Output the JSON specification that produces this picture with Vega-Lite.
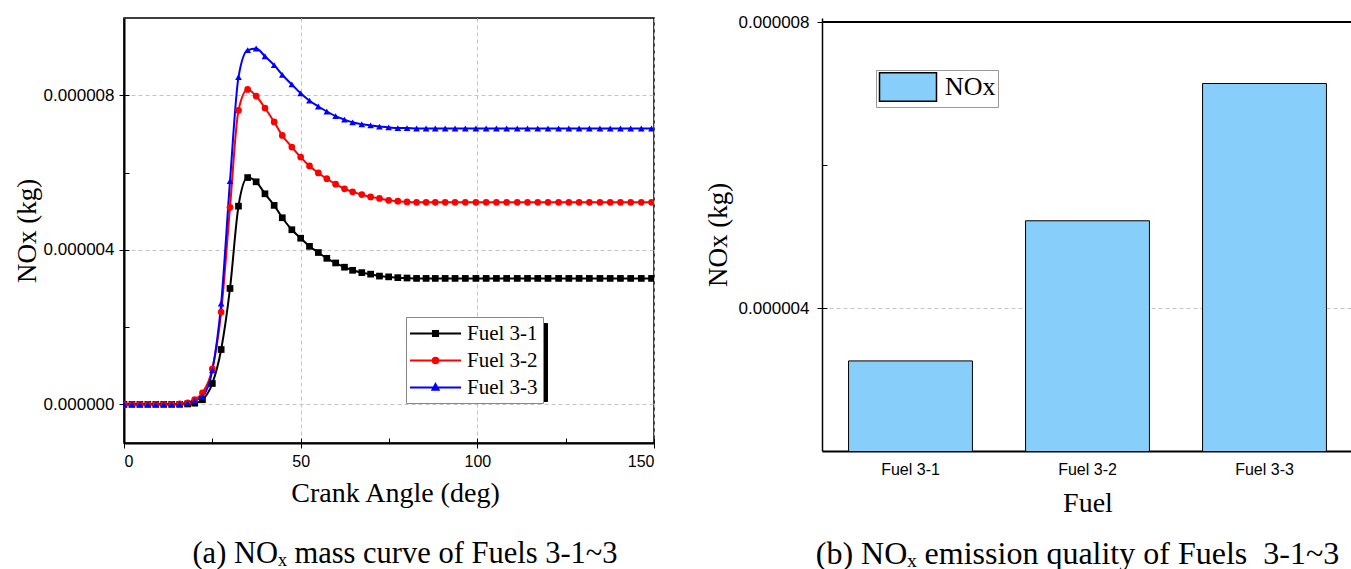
{
  "$schema": "https://vega.github.io/schema/vega-lite/v6.json",
  "padding": {"left": 12, "top": 13, "right": 0, "bottom": 0},
  "background": "white",
  "config": {
    "view": {"stroke": null},
    "axis": {
      "labelFont": "Liberation Sans", "labelFontSize": 16, "labelColor": "#000",
      "titleFont": "Liberation Serif", "titleFontSize": 27, "titleFontWeight": "normal", "titleColor": "#000",
      "domainColor": "#000", "tickColor": "#000", "gridColor": "#c4c4c4", "gridDash": [4, 3], "gridWidth": 1
    }
  },
  "datasets": {
    "curves": [
      {"angle":0,"fuel":"Fuel 3-1","nox":0},{"angle":2.25,"fuel":"Fuel 3-1","nox":0},{"angle":4.5,"fuel":"Fuel 3-1","nox":0},{"angle":6.75,"fuel":"Fuel 3-1","nox":0},{"angle":9,"fuel":"Fuel 3-1","nox":0},{"angle":11.25,"fuel":"Fuel 3-1","nox":0},{"angle":13.5,"fuel":"Fuel 3-1","nox":0},{"angle":15.75,"fuel":"Fuel 3-1","nox":0},{"angle":18,"fuel":"Fuel 3-1","nox":1e-8},{"angle":20,"fuel":"Fuel 3-1","nox":3e-8},
      {"angle":22.2,"fuel":"Fuel 3-1","nox":1.2e-7},{"angle":25,"fuel":"Fuel 3-1","nox":5.4e-7},{"angle":27.5,"fuel":"Fuel 3-1","nox":1.42e-6},{"angle":30,"fuel":"Fuel 3-1","nox":3.0e-6},{"angle":32.4,"fuel":"Fuel 3-1","nox":5.13e-6},{"angle":35,"fuel":"Fuel 3-1","nox":5.87e-6},{"angle":37.4,"fuel":"Fuel 3-1","nox":5.76e-6},{"angle":39.9,"fuel":"Fuel 3-1","nox":5.45e-6},{"angle":42.5,"fuel":"Fuel 3-1","nox":5.15e-6},{"angle":44.8,"fuel":"Fuel 3-1","nox":4.83e-6},
      {"angle":47.5,"fuel":"Fuel 3-1","nox":4.52e-6},{"angle":50,"fuel":"Fuel 3-1","nox":4.30e-6},{"angle":52.5,"fuel":"Fuel 3-1","nox":4.09e-6},{"angle":55,"fuel":"Fuel 3-1","nox":3.93e-6},{"angle":57.4,"fuel":"Fuel 3-1","nox":3.78e-6},{"angle":59.9,"fuel":"Fuel 3-1","nox":3.66e-6},{"angle":62.4,"fuel":"Fuel 3-1","nox":3.55e-6},{"angle":64.7,"fuel":"Fuel 3-1","nox":3.47e-6},{"angle":67.3,"fuel":"Fuel 3-1","nox":3.41e-6},{"angle":69.8,"fuel":"Fuel 3-1","nox":3.37e-6},
      {"angle":72.3,"fuel":"Fuel 3-1","nox":3.32e-6},{"angle":74.9,"fuel":"Fuel 3-1","nox":3.30e-6},{"angle":77.5,"fuel":"Fuel 3-1","nox":3.28e-6},{"angle":80.1,"fuel":"Fuel 3-1","nox":3.27e-6},{"angle":82.8,"fuel":"Fuel 3-1","nox":3.26e-6},{"angle":85.5,"fuel":"Fuel 3-1","nox":3.26e-6},{"angle":88.1,"fuel":"Fuel 3-1","nox":3.26e-6},{"angle":90.9,"fuel":"Fuel 3-1","nox":3.26e-6},{"angle":93.7,"fuel":"Fuel 3-1","nox":3.26e-6},{"angle":96.6,"fuel":"Fuel 3-1","nox":3.26e-6},
      {"angle":99.6,"fuel":"Fuel 3-1","nox":3.26e-6},{"angle":102.5,"fuel":"Fuel 3-1","nox":3.26e-6},{"angle":105.4,"fuel":"Fuel 3-1","nox":3.26e-6},{"angle":108.3,"fuel":"Fuel 3-1","nox":3.26e-6},{"angle":111.3,"fuel":"Fuel 3-1","nox":3.26e-6},{"angle":114.2,"fuel":"Fuel 3-1","nox":3.26e-6},{"angle":117.1,"fuel":"Fuel 3-1","nox":3.26e-6},{"angle":120,"fuel":"Fuel 3-1","nox":3.26e-6},{"angle":123,"fuel":"Fuel 3-1","nox":3.26e-6},{"angle":125.9,"fuel":"Fuel 3-1","nox":3.26e-6},
      {"angle":128.8,"fuel":"Fuel 3-1","nox":3.26e-6},{"angle":131.7,"fuel":"Fuel 3-1","nox":3.26e-6},{"angle":134.7,"fuel":"Fuel 3-1","nox":3.26e-6},{"angle":137.6,"fuel":"Fuel 3-1","nox":3.26e-6},{"angle":140.5,"fuel":"Fuel 3-1","nox":3.26e-6},{"angle":143.4,"fuel":"Fuel 3-1","nox":3.26e-6},{"angle":146.4,"fuel":"Fuel 3-1","nox":3.26e-6},{"angle":149.3,"fuel":"Fuel 3-1","nox":3.26e-6},

      {"angle":0,"fuel":"Fuel 3-2","nox":0},{"angle":2.25,"fuel":"Fuel 3-2","nox":0},{"angle":4.5,"fuel":"Fuel 3-2","nox":0},{"angle":6.75,"fuel":"Fuel 3-2","nox":0},{"angle":9,"fuel":"Fuel 3-2","nox":0},{"angle":11.25,"fuel":"Fuel 3-2","nox":0},{"angle":13.5,"fuel":"Fuel 3-2","nox":0},{"angle":15.75,"fuel":"Fuel 3-2","nox":1e-8},{"angle":18,"fuel":"Fuel 3-2","nox":4e-8},{"angle":20,"fuel":"Fuel 3-2","nox":1.2e-7},
      {"angle":22.2,"fuel":"Fuel 3-2","nox":3.0e-7},{"angle":25,"fuel":"Fuel 3-2","nox":9.2e-7},{"angle":27.5,"fuel":"Fuel 3-2","nox":2.39e-6},{"angle":30,"fuel":"Fuel 3-2","nox":5.10e-6},{"angle":32.4,"fuel":"Fuel 3-2","nox":7.61e-6},{"angle":35,"fuel":"Fuel 3-2","nox":8.15e-6},{"angle":37.4,"fuel":"Fuel 3-2","nox":7.98e-6},{"angle":39.9,"fuel":"Fuel 3-2","nox":7.67e-6},{"angle":42.5,"fuel":"Fuel 3-2","nox":7.31e-6},{"angle":44.8,"fuel":"Fuel 3-2","nox":6.96e-6},
      {"angle":47.5,"fuel":"Fuel 3-2","nox":6.66e-6},{"angle":50,"fuel":"Fuel 3-2","nox":6.40e-6},{"angle":52.5,"fuel":"Fuel 3-2","nox":6.17e-6},{"angle":55,"fuel":"Fuel 3-2","nox":5.99e-6},{"angle":57.4,"fuel":"Fuel 3-2","nox":5.84e-6},{"angle":59.9,"fuel":"Fuel 3-2","nox":5.70e-6},{"angle":62.4,"fuel":"Fuel 3-2","nox":5.58e-6},{"angle":64.7,"fuel":"Fuel 3-2","nox":5.50e-6},{"angle":67.3,"fuel":"Fuel 3-2","nox":5.43e-6},{"angle":69.8,"fuel":"Fuel 3-2","nox":5.37e-6},
      {"angle":72.3,"fuel":"Fuel 3-2","nox":5.33e-6},{"angle":74.9,"fuel":"Fuel 3-2","nox":5.28e-6},{"angle":77.5,"fuel":"Fuel 3-2","nox":5.26e-6},{"angle":80.1,"fuel":"Fuel 3-2","nox":5.24e-6},{"angle":82.8,"fuel":"Fuel 3-2","nox":5.23e-6},{"angle":85.5,"fuel":"Fuel 3-2","nox":5.23e-6},{"angle":88.1,"fuel":"Fuel 3-2","nox":5.23e-6},{"angle":90.9,"fuel":"Fuel 3-2","nox":5.23e-6},{"angle":93.7,"fuel":"Fuel 3-2","nox":5.23e-6},{"angle":96.6,"fuel":"Fuel 3-2","nox":5.23e-6},
      {"angle":99.6,"fuel":"Fuel 3-2","nox":5.23e-6},{"angle":102.5,"fuel":"Fuel 3-2","nox":5.23e-6},{"angle":105.4,"fuel":"Fuel 3-2","nox":5.23e-6},{"angle":108.3,"fuel":"Fuel 3-2","nox":5.23e-6},{"angle":111.3,"fuel":"Fuel 3-2","nox":5.23e-6},{"angle":114.2,"fuel":"Fuel 3-2","nox":5.23e-6},{"angle":117.1,"fuel":"Fuel 3-2","nox":5.23e-6},{"angle":120,"fuel":"Fuel 3-2","nox":5.23e-6},{"angle":123,"fuel":"Fuel 3-2","nox":5.23e-6},{"angle":125.9,"fuel":"Fuel 3-2","nox":5.23e-6},
      {"angle":128.8,"fuel":"Fuel 3-2","nox":5.23e-6},{"angle":131.7,"fuel":"Fuel 3-2","nox":5.23e-6},{"angle":134.7,"fuel":"Fuel 3-2","nox":5.23e-6},{"angle":137.6,"fuel":"Fuel 3-2","nox":5.23e-6},{"angle":140.5,"fuel":"Fuel 3-2","nox":5.23e-6},{"angle":143.4,"fuel":"Fuel 3-2","nox":5.23e-6},{"angle":146.4,"fuel":"Fuel 3-2","nox":5.23e-6},{"angle":149.3,"fuel":"Fuel 3-2","nox":5.23e-6},

      {"angle":0,"fuel":"Fuel 3-3","nox":0},{"angle":2.25,"fuel":"Fuel 3-3","nox":0},{"angle":4.5,"fuel":"Fuel 3-3","nox":0},{"angle":6.75,"fuel":"Fuel 3-3","nox":0},{"angle":9,"fuel":"Fuel 3-3","nox":0},{"angle":11.25,"fuel":"Fuel 3-3","nox":0},{"angle":13.5,"fuel":"Fuel 3-3","nox":0},{"angle":15.75,"fuel":"Fuel 3-3","nox":1e-8},{"angle":18,"fuel":"Fuel 3-3","nox":3e-8},{"angle":20,"fuel":"Fuel 3-3","nox":9e-8},
      {"angle":22.2,"fuel":"Fuel 3-3","nox":2.0e-7},{"angle":25,"fuel":"Fuel 3-3","nox":8.8e-7},{"angle":27.5,"fuel":"Fuel 3-3","nox":2.61e-6},{"angle":30,"fuel":"Fuel 3-3","nox":5.78e-6},{"angle":32.4,"fuel":"Fuel 3-3","nox":8.47e-6},{"angle":35,"fuel":"Fuel 3-3","nox":9.17e-6},{"angle":37.4,"fuel":"Fuel 3-3","nox":9.21e-6},{"angle":39.9,"fuel":"Fuel 3-3","nox":9.01e-6},{"angle":42.5,"fuel":"Fuel 3-3","nox":8.78e-6},{"angle":44.8,"fuel":"Fuel 3-3","nox":8.53e-6},
      {"angle":47.5,"fuel":"Fuel 3-3","nox":8.28e-6},{"angle":50,"fuel":"Fuel 3-3","nox":8.05e-6},{"angle":52.5,"fuel":"Fuel 3-3","nox":7.86e-6},{"angle":55,"fuel":"Fuel 3-3","nox":7.71e-6},{"angle":57.4,"fuel":"Fuel 3-3","nox":7.58e-6},{"angle":59.9,"fuel":"Fuel 3-3","nox":7.46e-6},{"angle":62.4,"fuel":"Fuel 3-3","nox":7.37e-6},{"angle":64.7,"fuel":"Fuel 3-3","nox":7.30e-6},{"angle":67.3,"fuel":"Fuel 3-3","nox":7.25e-6},{"angle":69.8,"fuel":"Fuel 3-3","nox":7.22e-6},
      {"angle":72.3,"fuel":"Fuel 3-3","nox":7.19e-6},{"angle":74.9,"fuel":"Fuel 3-3","nox":7.17e-6},{"angle":77.5,"fuel":"Fuel 3-3","nox":7.15e-6},{"angle":80.1,"fuel":"Fuel 3-3","nox":7.15e-6},{"angle":82.8,"fuel":"Fuel 3-3","nox":7.14e-6},{"angle":85.5,"fuel":"Fuel 3-3","nox":7.14e-6},{"angle":88.1,"fuel":"Fuel 3-3","nox":7.14e-6},{"angle":90.9,"fuel":"Fuel 3-3","nox":7.14e-6},{"angle":93.7,"fuel":"Fuel 3-3","nox":7.14e-6},{"angle":96.6,"fuel":"Fuel 3-3","nox":7.14e-6},
      {"angle":99.6,"fuel":"Fuel 3-3","nox":7.14e-6},{"angle":102.5,"fuel":"Fuel 3-3","nox":7.14e-6},{"angle":105.4,"fuel":"Fuel 3-3","nox":7.14e-6},{"angle":108.3,"fuel":"Fuel 3-3","nox":7.14e-6},{"angle":111.3,"fuel":"Fuel 3-3","nox":7.14e-6},{"angle":114.2,"fuel":"Fuel 3-3","nox":7.14e-6},{"angle":117.1,"fuel":"Fuel 3-3","nox":7.14e-6},{"angle":120,"fuel":"Fuel 3-3","nox":7.14e-6},{"angle":123,"fuel":"Fuel 3-3","nox":7.14e-6},{"angle":125.9,"fuel":"Fuel 3-3","nox":7.14e-6},
      {"angle":128.8,"fuel":"Fuel 3-3","nox":7.14e-6},{"angle":131.7,"fuel":"Fuel 3-3","nox":7.14e-6},{"angle":134.7,"fuel":"Fuel 3-3","nox":7.14e-6},{"angle":137.6,"fuel":"Fuel 3-3","nox":7.14e-6},{"angle":140.5,"fuel":"Fuel 3-3","nox":7.14e-6},{"angle":143.4,"fuel":"Fuel 3-3","nox":7.14e-6},{"angle":146.4,"fuel":"Fuel 3-3","nox":7.14e-6},{"angle":149.3,"fuel":"Fuel 3-3","nox":7.14e-6}
    ],
    "bars": [
      {"fuel": "Fuel 3-1", "nox": 3.26e-6},
      {"fuel": "Fuel 3-2", "nox": 5.22e-6},
      {"fuel": "Fuel 3-3", "nox": 7.14e-6}
    ]
  },
  "bounds": "flush",
  "spacing": 168,
  "resolve": {
    "scale": {"color": "independent", "shape": "independent", "opacity": "independent"},
    "legend": {"color": "independent", "shape": "independent", "opacity": "independent"}
  },
  "hconcat": [
    {
      "width": 530,
      "height": 425,
      "view": {"stroke": "#000", "strokeWidth": 1.5},
      "data": {"name": "curves"},
      "title": {"text": "(a) NOₓ mass curve of Fuels 3-1~3", "orient": "bottom", "anchor": "middle", "font": "Liberation Serif", "fontSize": 30.5, "fontWeight": "normal", "color": "#000", "offset": 32, "dx": 16},
      "resolve": {"axis": {"x": "independent", "y": "independent"}},
      "layer": [
        {
          "mark": {"type": "line", "strokeWidth": 2, "interpolate": "monotone", "clip": true},
          "encoding": {
            "x": {"field": "angle", "type": "quantitative", "scale": {"domain": [0, 150], "nice": false},
                  "axis": {"orient": "bottom", "values": [0, 50, 100, 150], "title": "Crank Angle (deg)", "grid": true, "tickSize": 5, "labelPadding": 5, "domainWidth": 2, "titlePadding": 10, "titleFontSize": 28, "titleX": 271}},
            "y": {"field": "nox", "type": "quantitative", "scale": {"domain": [-0.000001, 0.00001], "nice": false, "zero": false},
                  "axis": {"orient": "left", "values": [0, 0.000004, 0.000008], "format": ".6f", "title": "NOx (kg)", "grid": true, "tickSize": 5, "labelPadding": 5, "domainWidth": 2, "titlePadding": 2, "labelFontSize": 17}},
            "color": {"field": "fuel", "type": "nominal", "scale": {"range": ["#000000", "#ff0000", "#0000ff"]},
              "legend": {
                "orient": "none", "legendX": 282, "legendY": 299, "title": null, "zindex": 2,
                "fillColor": "#ffffff", "strokeColor": "#888888", "padding": 5, "rowPadding": 5,
                "labelFont": "Liberation Serif", "labelFontSize": 21, "labelColor": "#000", "labelOffset": 20,
                "symbolSize": 416, "symbolOffset": 13, "symbolStrokeWidth": 2,
                "encode": {"symbols": {"update": {
                  "shape": {"signal": "datum.value === 'Fuel 3-1' ? 'M-2.5,0H2.5M-0.25,-0.25H0.25V0.25H-0.25Z' : datum.value === 'Fuel 3-2' ? 'M-2.5,0H2.5M0.27,0A0.27,0.27 0 1,1 -0.27,0A0.27,0.27 0 1,1 0.27,0Z' : 'M-2.5,0H2.5M0,-0.33L0.3,0.22H-0.3Z'"},
                  "fill": {"signal": "datum.value === 'Fuel 3-1' ? '#000000' : datum.value === 'Fuel 3-2' ? '#ff0000' : '#0000ff'"},
                  "stroke": {"signal": "datum.value === 'Fuel 3-1' ? '#000000' : datum.value === 'Fuel 3-2' ? '#ff0000' : '#0000ff'"},
                  "strokeWidth": {"value": 2},
                  "opacity": {"value": 1}
                }}}
              }}
          }
        },
        {
          "mark": {"type": "point", "filled": true, "opacity": 1, "size": 45, "clip": true},
          "encoding": {
            "x": {"field": "angle", "type": "quantitative", "axis": null},
            "y": {"field": "nox", "type": "quantitative", "axis": null},
            "color": {"field": "fuel", "type": "nominal"},
            "shape": {"field": "fuel", "type": "nominal", "scale": {"range": ["square", "circle", "triangle-up"]}, "legend": null}
          }
        },
        {
          "mark": {"type": "point", "filled": true},
          "encoding": {
            "x": {"field": "angle", "type": "quantitative",
                  "axis": {"orient": "bottom", "values": [0, 25, 50, 75, 100, 125, 150], "labels": false, "domain": false, "grid": false, "title": null, "tickSize": -5}},
            "y": {"field": "nox", "type": "quantitative",
                  "axis": {"orient": "left", "values": [0, 0.000002, 0.000004, 0.000006, 0.000008], "labels": false, "domain": false, "grid": false, "title": null, "tickSize": -5}},
            "opacity": {"field": "fuel", "type": "ordinal",
              "scale": {"type": "ordinal", "domain": ["Fuel 3-1", "Fuel 3-2", "Fuel 3-3"], "range": [0, 0, 0]},
              "legend": {
                "orient": "none", "legendX": 287, "legendY": 305, "title": null, "zindex": 1,
                "fillColor": "#000000", "strokeColor": "#000000", "padding": 5, "rowPadding": 24,
                "labelExpr": "''", "labelFontSize": 21, "labelOffset": 90.6,
                "symbolSize": 416, "symbolOffset": 13, "symbolOpacity": 0
              }}
          }
        }
      ]
    },
    {
      "width": 531,
      "height": 433,
      "view": {"stroke": null},
      "data": {"name": "bars"},
      "title": {"text": "(b) NOₓ emission quality of Fuels\u00a0 3-1~3", "orient": "bottom", "anchor": "middle", "font": "Liberation Serif", "fontSize": 32, "fontWeight": "normal", "color": "#000", "offset": 22, "dx": -10},
      "resolve": {"axis": {"y": "independent"}},
      "layer": [
        {
          "mark": {"type": "bar", "stroke": "#000", "strokeWidth": 1, "clip": true},
          "encoding": {
            "x": {"field": "fuel", "type": "nominal", "scale": {"paddingInner": 0.3, "paddingOuter": 0.15},
                  "axis": {"title": "Fuel", "labelAngle": 0, "ticks": false, "domainWidth": 2, "labelPadding": 10, "titlePadding": 12, "titleFontSize": 28}},
            "y": {"field": "nox", "type": "quantitative", "scale": {"domain": [0.000002, 0.000008056], "nice": false, "zero": false},
                  "axis": {"orient": "left", "values": [0.000004, 0.000008], "format": ".6f", "title": "NOx (kg)", "grid": true, "tickSize": 5, "labelPadding": 8, "domainWidth": 1.5, "titlePadding": 6, "labelFontSize": 17}},
            "color": {"datum": "NOx", "type": "nominal", "scale": {"range": ["#87CEFA"]},
              "legend": {
                "orient": "none", "legendX": 54, "legendY": 52, "title": null,
                "fillColor": "#ffffff", "strokeColor": "#999999", "padding": 2,
                "labelFont": "Liberation Serif", "labelFontSize": 26, "labelColor": "#000", "labelOffset": 22,
                "symbolType": "M-2,-1H2V1H-2Z", "symbolSize": 812, "symbolOffset": 15,
                "encode": {"symbols": {"update": {"fill": {"value": "#87CEFA"}, "stroke": {"value": "#222222"}, "strokeWidth": {"value": 1.5}, "opacity": {"value": 1}}}}
              }}
          }
        },
        {
          "mark": {"type": "rule", "color": "#000", "strokeWidth": 2},
          "encoding": {
            "y": {"datum": 0.000008, "type": "quantitative",
                  "axis": {"orient": "left", "values": [0.000004, 0.000006, 0.000008], "labels": false, "domain": false, "grid": false, "title": null, "tickSize": -5}}
          }
        }
      ]
    }
  ]
}
